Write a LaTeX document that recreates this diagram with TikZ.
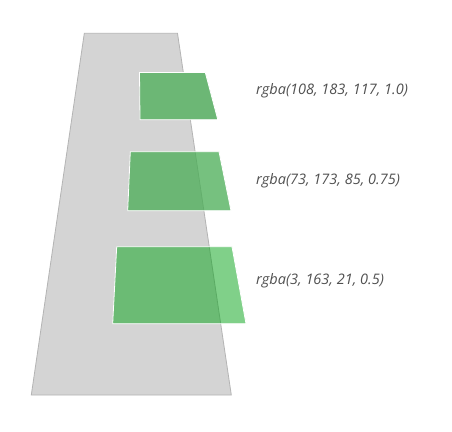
\documentclass[tikz,border=0pt]{standalone}
\usepackage{fontspec}
\setmainfont{Open Sans}
\definecolor{trapfill}{RGB}{212,212,212}
\definecolor{trapedge}{RGB}{180,180,180}
\definecolor{gA}{RGB}{108,183,117}
\definecolor{gB}{RGB}{73,173,85}
\definecolor{gC}{RGB}{3,163,21}
\definecolor{txt}{RGB}{80,80,80}
\tikzset{
  shelf/.style={draw=white, line width=0.8pt, line join=miter},
  lbl/.style={anchor=west, inner sep=0pt, text=txt, font=\itshape\fontsize{14.5}{16}\selectfont}
}
\begin{document}
\begin{tikzpicture}[x=1pt,y=-1pt]
\useasboundingbox (0,0) rectangle (452,431);
\fill[white] (0,0) rectangle (452,431);
\draw[fill=trapfill, draw=trapedge, line width=0.8pt] (84.3,33.3) -- (177.5,33.3) -- (231.3,395) -- (31.3,395) -- cycle;
\draw[shelf, fill=gA] (139.5,72.5) -- (205.3,72.5) -- (217.8,119.7) -- (140,119.7) -- cycle;
\draw[shelf, fill=gB, fill opacity=0.75] (130.3,151.7) -- (219,151.7) -- (231,210.7) -- (127.7,210.7) -- cycle;
\draw[shelf, fill=gC, fill opacity=0.5] (116.7,246.7) -- (232,246.7) -- (246,323.7) -- (112.7,323.7) -- cycle;
\node[lbl] (la) at (256,91) {rgba(108, 183, 117, 1.0)};
\node[lbl] (lb) at (256,180.5) {rgba(73, 173, 85, 0.75)};
\node[lbl] (lc) at (256,280.5) {rgba(3, 163, 21, 0.5)};
\end{tikzpicture}
\end{document}
